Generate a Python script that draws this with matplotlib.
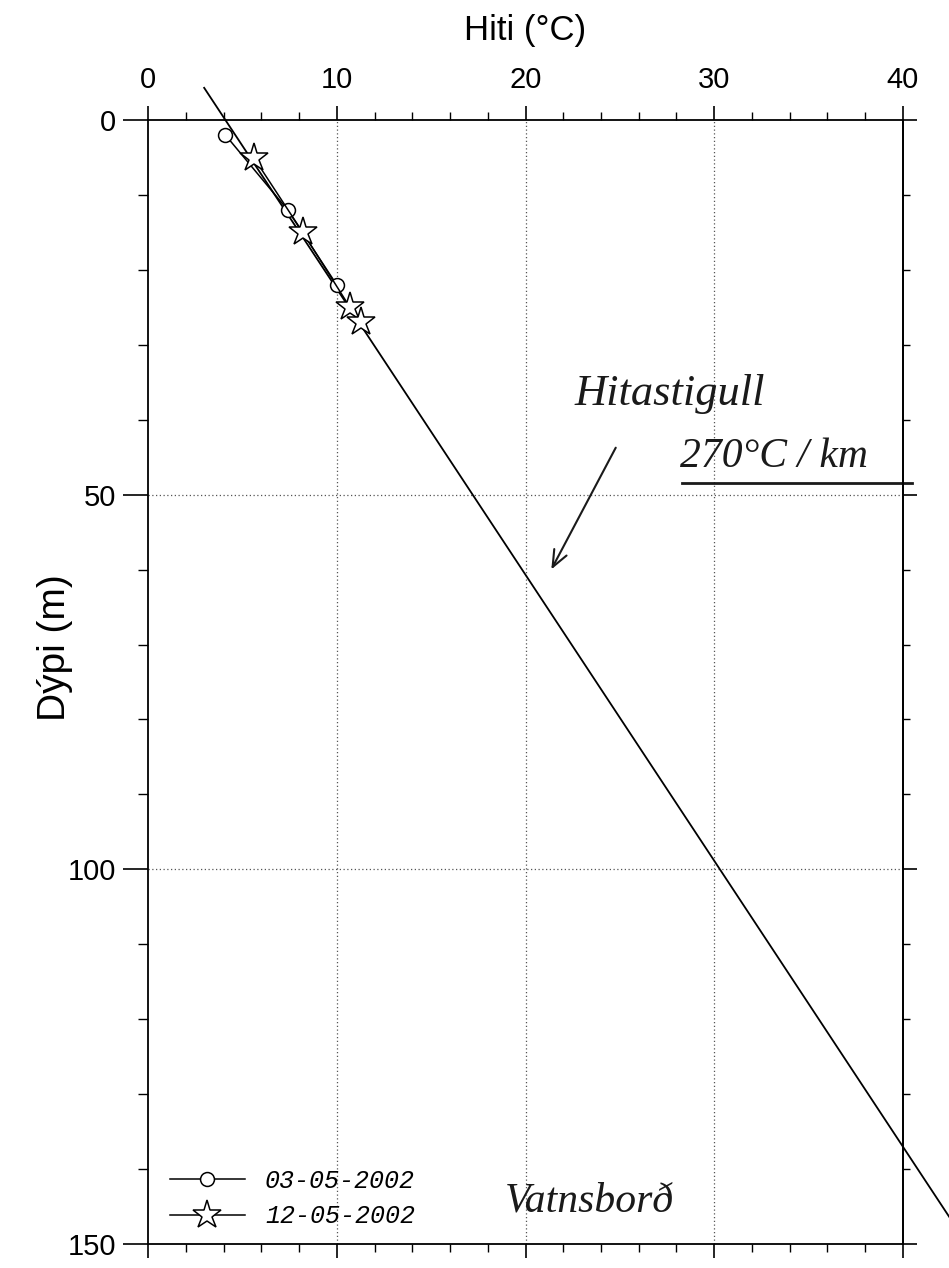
import matplotlib
matplotlib.use('Agg')
import matplotlib.pyplot as plt
import numpy as np
from matplotlib.ticker import MultipleLocator, NullFormatter

plt.rcParams['font.family'] = ['Liberation Sans', 'DejaVu Sans']

# mælingar, hiti (°C) og dýpi (m)
temp_0305 = [4.1, 7.4, 10.0]
depth_0305 = [2, 12, 22]
temp_1205 = [5.6, 8.2, 10.7, 11.3]
depth_1205 = [5, 15, 25, 27]
labels = ['03-05-2002', '12-05-2002']

# hitastigull, fitted line
fit_intercept = 4.1     # °C at 0 m
fit_slope = 0.262       # °C per m
fit_depth = np.array([-4.3, 150.0])
fit_temp = fit_intercept + fit_slope * fit_depth

fig = plt.figure(figsize=(9.49, 12.68), dpi=100)
ax = fig.add_axes([0.156, 0.01893, 0.7955, 0.8864])

ax.plot(temp_0305, depth_0305, color='black', lw=1.1, marker='o', ms=10,
        mfc='white', mec='black', mew=1.1, label=labels[0], zorder=3)
ax.plot(temp_1205, depth_1205, color='black', lw=1.1, marker='*', ms=21,
        mfc='white', mec='black', mew=1.1, label=labels[1], zorder=3)
ax.plot(fit_temp, fit_depth, color='black', lw=1.3, clip_on=False, zorder=2)

ax.set_xlim(0, 40)
ax.set_ylim(150, 0)

# grid
for t in [10, 20, 30]:
    ax.axvline(t, color='#555555', lw=0.9, ls=(0, (1, 2)), zorder=1)
for d in [50, 100]:
    ax.axhline(d, color='#555555', lw=0.9, ls=(0, (1, 2)), zorder=1)

for s in ax.spines.values():
    s.set_linewidth(1.3)

ax.xaxis.set_major_locator(MultipleLocator(10))
ax.xaxis.set_minor_locator(MultipleLocator(2))
ax.yaxis.set_major_locator(MultipleLocator(50))
ax.yaxis.set_minor_locator(MultipleLocator(10))
ax.tick_params(axis='x', which='both', top=True, bottom=True,
               labeltop=True, labelbottom=False, direction='out')
ax.tick_params(axis='x', which='major', length=10, width=1.2, pad=9, labelsize=21)
ax.tick_params(axis='x', which='minor', length=6, width=1.0)
ax.tick_params(axis='y', which='both', left=True, right=False, direction='out')
ax.tick_params(axis='y', which='major', length=18, width=1.2, pad=5, labelsize=21)
ax.tick_params(axis='y', which='minor', length=7, width=1.0)

sec = ax.secondary_yaxis('right')
sec.yaxis.set_major_locator(MultipleLocator(50))
sec.yaxis.set_minor_locator(MultipleLocator(10))
sec.yaxis.set_major_formatter(NullFormatter())
sec.tick_params(which='major', length=10, width=1.2, direction='out')
sec.tick_params(which='minor', length=5, width=1.0, direction='out')
sec.spines['right'].set_linewidth(1.3)

fig.text(0.5535, 1 - 40 / 1268, 'Hiti (°C)', ha='center', va='baseline', fontsize=25)
fig.text(55 / 949, 1 - 648 / 1268, 'Dýpi (m)', ha='center', va='center',
         rotation=90, fontsize=28)

ax.legend(loc='lower left', bbox_to_anchor=(0.029, 0.014), frameon=False,
          borderaxespad=0, borderpad=0, handlelength=3.0, handletextpad=0.8,
          labelspacing=0.45,
          prop={'family': 'Liberation Mono', 'style': 'italic', 'size': 18})

# handskrifaðar athugasemdir
hand = dict(family='Liberation Serif', style='italic', color='#1a1a1a', clip_on=False)
ax.text(22.6, 38.0, 'Hitastigull', fontsize=32, va='baseline', **hand)
ax.text(28.2, 46.3, '270°C / km', fontsize=30, va='baseline', **hand)
ax.plot([28.3, 40.5], [48.4, 48.4], color='#1a1a1a', lw=2, clip_on=False)
ax.annotate('', xy=(21.3, 60.3), xytext=(24.85, 43.4),
            arrowprops=dict(arrowstyle='->,head_length=1.2,head_width=0.5',
                            color='#1a1a1a', lw=1.5))
ax.text(18.9, 145.7, 'Vatnsborð', fontsize=30, va='baseline', **hand)

fig.savefig('out.png', dpi=100)
